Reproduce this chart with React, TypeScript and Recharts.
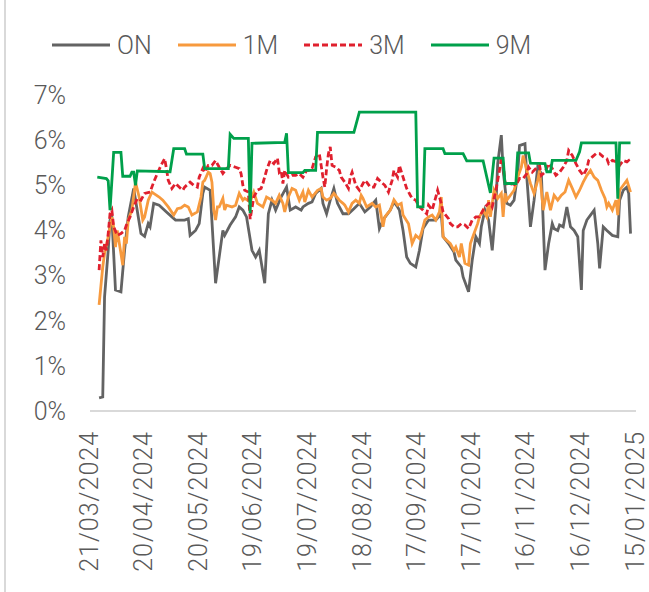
import { LineChart, Line, XAxis, YAxis, Legend } from "recharts";

const FONT = "Roboto, sans-serif";
const TEXT = "#595959";

// x positions are days counted from 21/03/2024
const TICK_DAYS = [0, 30, 60, 90, 120, 150, 180, 210, 240, 270, 300];
const TICK_LABELS = [
    "21/03/2024", "20/04/2024", "20/05/2024", "19/06/2024", "19/07/2024", "18/08/2024",
    "17/09/2024", "17/10/2024", "16/11/2024", "16/12/2024", "15/01/2025",
];
const Y_TICKS = [0, 1, 2, 3, 4, 5, 6, 7];

const ON_DAYS = [5, 7, 8, 10, 11, 12, 14, 17, 19, 21, 24, 28, 30, 32, 33, 35, 38, 42, 45, 47, 52, 54, 55, 58, 60, 62, 63, 66, 69, 73, 74, 77, 80, 82, 84, 86, 89, 91, 93, 96, 98, 100, 102, 105, 108, 110, 113, 116, 117, 120, 122, 124, 127, 128, 130, 132, 134, 136, 139, 142, 145, 148, 151, 154, 157, 159, 161, 165, 167, 169, 170, 172, 174, 176, 179, 181, 183, 186, 190, 193, 194, 197, 200, 201, 204, 205, 208, 210, 212, 214, 215, 217, 219, 221, 223, 224, 226, 227, 229, 231, 233, 235, 236, 239, 240, 242, 244, 246, 248, 250, 252, 254, 255, 257, 258, 260, 262, 264, 266, 268, 270, 271, 273, 275, 277, 279, 280, 282, 284, 287, 290, 291, 293, 295, 296, 297];
const ON_VALUES = [0.29, 0.31, 2.53, 3.56, 4.23, 4.3, 2.68, 2.64, 3.56, 4.3, 4.93, 3.93, 3.87, 4.15, 4.08, 4.6, 4.56, 4.41, 4.3, 4.23, 4.23, 4.26, 3.89, 4.0, 4.15, 4.82, 4.96, 4.89, 2.83, 4.0, 3.89, 4.12, 4.3, 4.52, 4.45, 4.3, 3.56, 3.41, 3.56, 2.83, 4.37, 4.67, 4.45, 4.74, 4.96, 4.45, 4.52, 4.45, 4.52, 4.6, 4.63, 4.82, 4.93, 4.6, 4.37, 4.67, 4.93, 4.6, 4.37, 4.37, 4.48, 4.6, 4.41, 4.52, 4.67, 4.04, 4.23, 4.45, 4.63, 4.52, 4.45, 4.0, 3.41, 3.27, 3.19, 3.56, 4.04, 4.23, 4.23, 4.37, 3.86, 3.71, 3.52, 3.34, 3.19, 2.97, 2.64, 3.34, 3.86, 3.71, 4.08, 4.45, 4.23, 3.56, 4.52, 5.48, 6.11, 5.33, 4.6, 4.56, 4.67, 5.26, 5.88, 5.92, 5.18, 4.08, 4.67, 5.4, 5.26, 3.12, 3.71, 4.15, 4.04, 4.0, 4.12, 4.08, 4.52, 4.08, 4.0, 3.86, 2.68, 4.0, 4.23, 4.34, 4.45, 3.71, 3.16, 4.08, 4.0, 3.89, 3.86, 4.67, 4.89, 4.96, 4.82, 3.93];

const M1_DAYS = [5, 7, 8, 10, 12, 13, 14, 15, 17, 18, 19, 20, 21, 23, 25, 27, 29, 30, 32, 34, 35, 38, 40, 43, 46, 48, 50, 52, 54, 56, 59, 61, 62, 63, 65, 66, 67, 68, 69, 70, 71, 73, 74, 75, 78, 80, 82, 84, 85, 88, 90, 92, 95, 97, 100, 102, 104, 106, 107, 109, 111, 113, 115, 117, 118, 120, 122, 125, 127, 128, 130, 132, 134, 137, 139, 140, 142, 144, 146, 148, 149, 150, 152, 155, 157, 159, 161, 162, 165, 167, 169, 171, 172, 175, 177, 179, 181, 182, 184, 186, 188, 190, 192, 193, 194, 196, 198, 200, 201, 203, 204, 206, 208, 209, 211, 213, 214, 216, 218, 219, 220, 222, 224, 226, 227, 228, 229, 231, 233, 235, 237, 238, 240, 242, 244, 246, 247, 249, 251, 253, 255, 257, 259, 261, 263, 265, 267, 269, 271, 273, 275, 277, 279, 281, 283, 284, 285, 287, 289, 290, 291, 293, 295, 297];
const M1_VALUES = [2.35, 3.19, 3.49, 3.86, 4.3, 4.08, 3.63, 4.0, 3.49, 3.23, 3.86, 3.71, 4.23, 4.45, 5.07, 4.74, 4.23, 4.3, 4.67, 4.85, 4.82, 4.74, 4.67, 4.52, 4.34, 4.48, 4.5, 4.56, 4.52, 4.34, 4.41, 4.74, 5.07, 5.11, 5.29, 5.26, 5.07, 4.45, 4.23, 4.52, 4.52, 4.71, 4.45, 4.56, 4.52, 4.56, 4.82, 4.67, 4.71, 4.63, 4.85, 4.6, 4.52, 4.74, 4.67, 4.6, 4.78, 4.6, 4.41, 4.74, 4.93, 4.89, 4.67, 4.85, 4.63, 4.89, 4.74, 4.89, 4.93, 4.74, 4.67, 4.71, 4.82, 4.67, 4.6, 4.56, 4.41, 4.6, 4.67, 4.6, 4.78, 4.71, 4.52, 4.6, 4.52, 4.56, 4.08, 4.3, 4.45, 4.68, 4.56, 4.6, 4.34, 4.15, 3.71, 3.89, 3.82, 3.93, 4.23, 4.3, 4.34, 4.23, 4.41, 4.74, 3.86, 3.78, 3.71, 3.56, 3.63, 3.41, 3.71, 3.27, 3.23, 3.71, 3.93, 4.15, 4.3, 4.45, 4.3, 4.67, 4.3, 4.89, 4.71, 4.82, 4.3, 4.82, 4.67, 4.78, 4.89, 5.18, 5.4, 5.66, 5.33, 5.04, 4.82, 5.11, 5.33, 4.45, 4.85, 4.45, 4.78, 4.67, 4.78, 4.85, 5.11, 4.93, 4.74, 4.89, 5.07, 5.22, 5.33, 5.18, 5.11, 4.89, 4.71, 4.52, 4.6, 4.45, 4.67, 4.34, 4.89, 5.0, 5.11, 4.85];

const M3_DAYS = [5, 6, 7, 8, 9, 10, 11, 12, 13, 15, 17, 19, 20, 22, 24, 26, 28, 30, 33, 35, 37, 39, 41, 42, 43, 45, 47, 49, 51, 52, 55, 57, 59, 60, 62, 63, 65, 67, 69, 71, 73, 75, 77, 80, 82, 83, 84, 85, 87, 88, 90, 92, 94, 95, 97, 99, 101, 103, 104, 105, 106, 107, 109, 111, 113, 115, 117, 119, 121, 122, 124, 126, 128, 129, 130, 131, 132, 133, 135, 137, 138, 140, 142, 143, 144, 146, 148, 150, 151, 152, 154, 156, 158, 160, 162, 164, 166, 167, 169, 170, 172, 174, 176, 177, 179, 181, 183, 185, 186, 188, 190, 191, 193, 194, 197, 198, 200, 202, 204, 206, 208, 210, 212, 214, 216, 217, 219, 220, 221, 223, 225, 226, 227, 228, 230, 232, 234, 236, 238, 240, 241, 243, 245, 247, 248, 250, 252, 254, 256, 258, 260, 262, 263, 265, 267, 269, 271, 273, 274, 276, 278, 280, 282, 284, 285, 287, 289, 291, 293, 295, 296, 297];
const M3_VALUES = [3.12, 3.78, 3.41, 3.71, 3.56, 3.93, 4.37, 4.45, 4.08, 3.89, 3.93, 4.0, 4.12, 4.3, 4.52, 4.71, 4.67, 4.82, 4.85, 5.07, 5.26, 5.44, 5.59, 5.37, 5.11, 4.93, 5.04, 4.96, 4.89, 4.96, 5.07, 5.0, 4.96, 5.18, 5.37, 5.29, 5.44, 5.44, 5.55, 5.4, 5.26, 5.37, 5.44, 5.4, 5.37, 5.26, 5.0, 4.89, 4.85, 4.25, 4.74, 4.89, 4.93, 5.04, 5.33, 5.55, 5.48, 5.6, 5.29, 5.33, 5.04, 5.33, 5.18, 5.22, 5.22, 5.26, 5.18, 5.33, 5.33, 5.37, 5.63, 5.7, 5.18, 4.96, 5.37, 5.7, 5.85, 5.44, 5.4, 5.33, 5.18, 5.07, 4.93, 5.18, 5.29, 5.0, 4.89, 5.04, 5.11, 5.07, 4.96, 4.96, 5.15, 5.07, 5.0, 4.85, 5.11, 5.33, 5.18, 5.44, 5.18, 4.93, 4.78, 4.71, 4.67, 4.52, 4.45, 4.37, 4.56, 4.45, 4.74, 4.89, 4.6, 4.41, 4.26, 4.15, 4.08, 4.08, 4.15, 4.12, 4.04, 4.23, 4.3, 4.3, 4.45, 4.52, 4.6, 4.6, 4.52, 4.89, 5.33, 5.59, 5.48, 5.07, 5.0, 5.04, 5.0, 5.15, 5.15, 5.26, 5.4, 5.29, 5.37, 5.44, 5.22, 5.29, 5.48, 5.37, 5.22, 5.29, 5.4, 5.55, 5.77, 5.66, 5.48, 5.33, 5.22, 5.37, 5.55, 5.63, 5.7, 5.7, 5.63, 5.59, 5.48, 5.55, 5.52, 5.44, 5.55, 5.52, 5.55, 5.48];

const M9_DAYS = [4, 9, 10, 11, 13, 17, 18, 22, 23, 24, 25, 26, 44, 46, 52, 53, 62, 63, 76, 77, 79, 87, 88, 89, 107, 108, 109, 117, 118, 124, 125, 145, 148, 179, 180, 183, 184, 194, 195, 205, 207, 216, 220, 222, 227, 228, 234, 235, 241, 242, 250, 251, 253, 254, 267, 269, 270, 289, 290, 291, 297];
const M9_VALUES = [5.18, 5.15, 5.1, 4.45, 5.73, 5.73, 5.2, 5.2, 5.29, 5.29, 5.0, 5.32, 5.3, 5.81, 5.81, 5.69, 5.69, 5.37, 5.37, 6.13, 6.04, 6.04, 4.38, 5.93, 5.95, 6.15, 5.28, 5.28, 5.33, 5.33, 6.17, 6.17, 6.62, 6.62, 4.52, 4.52, 5.81, 5.81, 5.7, 5.7, 5.54, 5.54, 4.83, 5.6, 5.6, 5.04, 5.04, 5.72, 5.72, 5.49, 5.48, 5.3, 5.3, 5.55, 5.55, 5.74, 5.94, 5.94, 4.7, 5.94, 5.94];

const toPoints = (days: number[], values: number[]) => days.map((day, i) => ({ day, value: values[i] }));

const SERIES = [
    { name: "ON", color: "#636363", dash: undefined, data: toPoints(ON_DAYS, ON_VALUES) },
    { name: "1M", color: "#f79a3e", dash: undefined, data: toPoints(M1_DAYS, M1_VALUES) },
    { name: "3M", color: "#e0202e", dash: "6 3", data: toPoints(M3_DAYS, M3_VALUES) },
    { name: "9M", color: "#00a04b", dash: undefined, data: toPoints(M9_DAYS, M9_VALUES) },
];

function DateTick({ x, y, payload }: any) {
    const label = TICK_LABELS[TICK_DAYS.indexOf(payload.value)];
    return (
        <text
            x={x}
            y={y}
            dy="0.3em"
            transform={`rotate(-90, ${x}, ${y})`}
            textAnchor="end"
            fill={TEXT}
            fontSize={25}
            fontFamily={FONT}
            fontWeight={300}
            letterSpacing={1}
        >
            {label}
        </text>
    );
}

function LegendRow() {
    return (
        <div style={{ display: "flex", alignItems: "center", height: 34, paddingLeft: 52, fontFamily: FONT, fontWeight: 300, fontSize: 25, color: TEXT }}>
            {SERIES.map((s) => (
                <div key={s.name} style={{ display: "flex", alignItems: "center", marginRight: 26 }}>
                    <svg width={58} height={6} style={{ marginRight: 7 }}>
                        <line x1={0} y1={3} x2={58} y2={3} stroke={s.color} strokeWidth={3} strokeDasharray={s.dash} />
                    </svg>
                    <span>{s.name}</span>
                </div>
            ))}
        </div>
    );
}

export default function App() {
    return (
        <div style={{ position: "fixed", left: 0, top: 0, width: 649, height: 592, background: "#fff" }}>
            <div style={{ position: "absolute", left: 4, top: 0, width: 2, height: 592, background: "#d9d9d9" }} />
            <LineChart width={649} height={592} margin={{ top: 95, right: 13, bottom: 0, left: 0 }}>
                <Legend
                    layout="horizontal"
                    verticalAlign="middle"
                    align="center"
                    wrapperStyle={{ top: 28, left: 0, width: 649, height: 34 }}
                    content={() => <LegendRow />}
                />
                <XAxis
                    type="number"
                    dataKey="day"
                    domain={[0, 300]}
                    ticks={TICK_DAYS}
                    interval={0}
                    allowDataOverflow
                    height={181}
                    tickLine={false}
                    tickMargin={14}
                    axisLine={{ stroke: "#d9d9d9", strokeWidth: 2 }}
                    tick={<DateTick />}
                />
                <YAxis
                    type="number"
                    domain={[0, 7]}
                    ticks={Y_TICKS}
                    interval={0}
                    width={90}
                    tickLine={false}
                    axisLine={false}
                    tickMargin={18}
                    tickFormatter={(v: number) => `${v}%`}
                    tick={{ fill: TEXT, fontSize: 25, fontFamily: FONT, fontWeight: 300 }}
                />
                {SERIES.map((s) => (
                    <Line
                        key={s.name}
                        data={s.data}
                        dataKey="value"
                        name={s.name}
                        type="linear"
                        stroke={s.color}
                        strokeWidth={2.8}
                        strokeDasharray={s.dash}
                        dot={false}
                        activeDot={false}
                        isAnimationActive={false}
                    />
                ))}
            </LineChart>
        </div>
    );
}
